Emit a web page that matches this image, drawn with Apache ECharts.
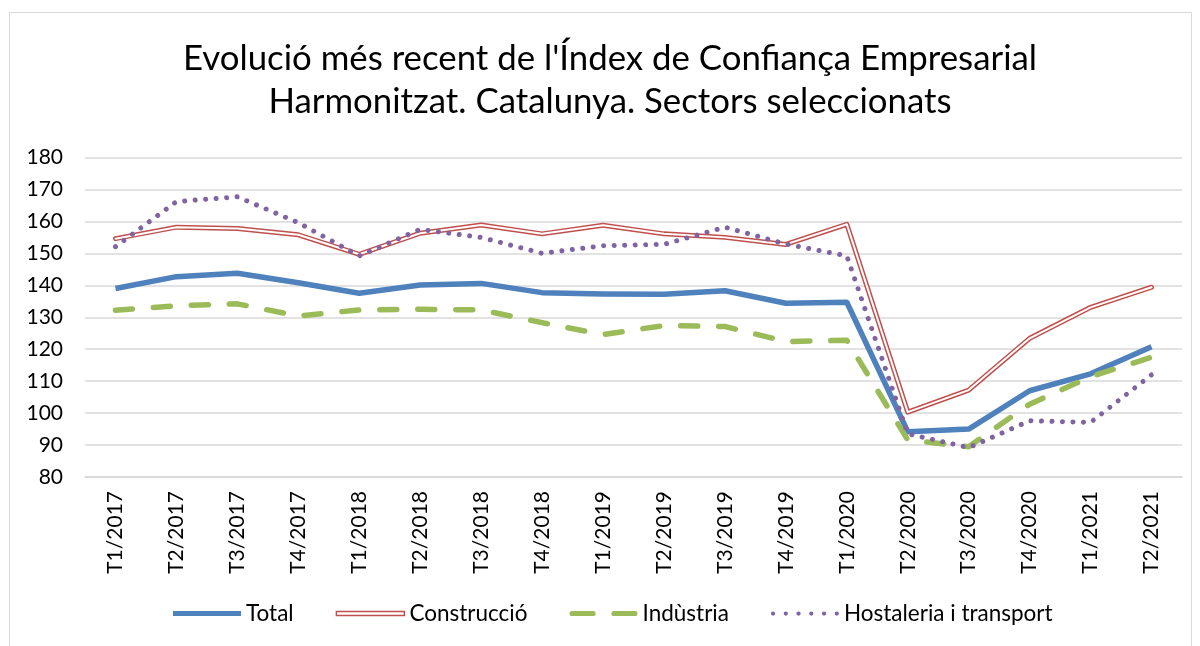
<!DOCTYPE html>
<html>
<head>
<meta charset="utf-8">
<script src="https://cdn.jsdelivr.net/npm/echarts@6/dist/echarts.min.js"></script>
<style>
  html, body { margin: 0; padding: 0; background: #fff; }
  #chart { width: 1200px; height: 646px; }
</style>
</head>
<body>
<div id="chart"></div>
<script>
var trimestres = ['T1/2017', 'T2/2017', 'T3/2017', 'T4/2017', 'T1/2018', 'T2/2018', 'T3/2018', 'T4/2018',
    'T1/2019', 'T2/2019', 'T3/2019', 'T4/2019', 'T1/2020', 'T2/2020', 'T3/2020', 'T4/2020', 'T1/2021', 'T2/2021'];

var total      = [139.0, 142.7, 143.8, 140.8, 137.5, 140.1, 140.6, 137.7, 137.3, 137.2, 138.3, 134.4, 134.7, 94.2, 95.0, 107.0, 112.3, 120.8];
var construccio = [154.6, 158.2, 157.8, 155.8, 149.7, 156.3, 158.9, 156.1, 158.8, 156.1, 155.0, 152.8, 159.1, 100.3, 107.2, 123.4, 133.1, 139.4];
var industria  = [132.2, 133.6, 134.2, 130.4, 132.3, 132.5, 132.3, 128.3, 124.6, 127.4, 127.1, 122.4, 122.8, 91.6, 89.5, 102.8, 111.4, 117.5];
var hostaleria = [152.1, 166.2, 167.7, 159.6, 149.2, 157.5, 155.0, 150.0, 152.4, 152.8, 158.2, 152.9, 149.2, 93.5, 89.2, 97.6, 97.1, 112.0];

var font = 'Lato';
var chart = echarts.init(document.getElementById('chart'));

// dots for the legend icon of the dotted series
var dots = '';
for (var i = 0; i < 6; i++) {
    dots += 'M' + (i * 12) + ',2a2,2 0 1,0 4,0a2,2 0 1,0 -4,0';
}

option = {
    backgroundColor: '#fff',
    animation: false,
    title: {
        text: "Evolució més recent de l'Índex de Confiança Empresarial\nHarmonitzat. Catalunya. Sectors seleccionats",
        left: 610,
        top: 37,
        padding: 0,
        textAlign: 'center',
        textStyle: {
            fontFamily: font,
            fontSize: 34.8,
            fontWeight: 'normal',
            color: '#000',
            lineHeight: 43
        }
    },
    graphic: [{
        type: 'rect',
        shape: { x: 9.5, y: 12.5, width: 1182, height: 660 },
        style: { fill: 'none', stroke: '#D9D9D9', lineWidth: 1 },
        silent: true
    }],
    grid: { left: 85, right: 18, top: 157.5, bottom: 169 },
    legend: {
        left: 168,
        top: 597,
        itemWidth: 68,
        itemHeight: 12,
        itemGap: 42,
        textStyle: { fontFamily: font, fontSize: 22.5, color: '#000' },
        data: [
            { name: 'Total', icon: 'path://M0,0H68V5H0Z',
              itemStyle: { color: '#4F81BD', borderWidth: 0 } },
            { name: 'Construcció', icon: 'path://M0,0H68V4H0Z',
              itemStyle: { color: '#fff', borderColor: '#C0504D', borderWidth: 1.5 } },
            { name: 'Indùstria', icon: 'path://M2.5,0H22.5A2.5,2.5 0 0,1 22.5,5H2.5A2.5,2.5 0 0,1 2.5,0Z M42.5,0H62.5A2.5,2.5 0 0,1 62.5,5H42.5A2.5,2.5 0 0,1 42.5,0Z',
              itemStyle: { color: '#9BBB59', borderWidth: 0 } },
            { name: 'Hostaleria i transport', icon: 'path://' + dots,
              itemStyle: { color: '#8064A2', borderWidth: 0 } }
        ]
    },
    xAxis: {
        type: 'category',
        data: trimestres,
        boundaryGap: true,
        axisLine: { lineStyle: { color: '#D9D9D9', width: 1.5 } },
        axisTick: { show: false },
        axisLabel: {
            rotate: 90,
            margin: 14,
            fontFamily: font,
            fontSize: 21,
            color: '#000'
        }
    },
    yAxis: {
        type: 'value',
        min: 80,
        max: 180,
        interval: 10,
        axisLine: { show: false },
        axisTick: { show: false },
        axisLabel: {
            margin: 22,
            fontFamily: font,
            fontSize: 21,
            color: '#000'
        },
        splitLine: { lineStyle: { color: '#D9D9D9', width: 1.5 } }
    },
    series: [
        {
            name: 'Total',
            type: 'line',
            data: total,
            symbol: 'none',
            lineStyle: { color: '#4F81BD', width: 5.5, join: 'round' },
            itemStyle: { color: '#4F81BD' }
        },
        {
            name: 'Construcció',
            type: 'line',
            data: construccio,
            symbol: 'none',
            lineStyle: { color: '#C0504D', width: 5, join: 'round', cap: 'round' },
            itemStyle: { color: '#C0504D' }
        },
        {
            name: 'Construcció (interior)',
            type: 'line',
            data: construccio,
            symbol: 'none',
            silent: true,
            lineStyle: { color: '#fff', width: 2, join: 'round', cap: 'round' },
            itemStyle: { color: '#fff' }
        },
        {
            name: 'Indùstria',
            type: 'line',
            data: industria,
            symbol: 'none',
            lineStyle: { color: '#9BBB59', width: 5.5, type: [17, 21], cap: 'round', join: 'round' },
            itemStyle: { color: '#9BBB59' }
        },
        {
            name: 'Hostaleria i transport',
            type: 'line',
            data: hostaleria,
            symbol: 'none',
            lineStyle: { color: '#8064A2', width: 5, type: [0.01, 10.5], cap: 'round', join: 'round' },
            itemStyle: { color: '#8064A2' }
        }
    ]
};

chart.setOption(option, true);
</script>
</body>
</html>
